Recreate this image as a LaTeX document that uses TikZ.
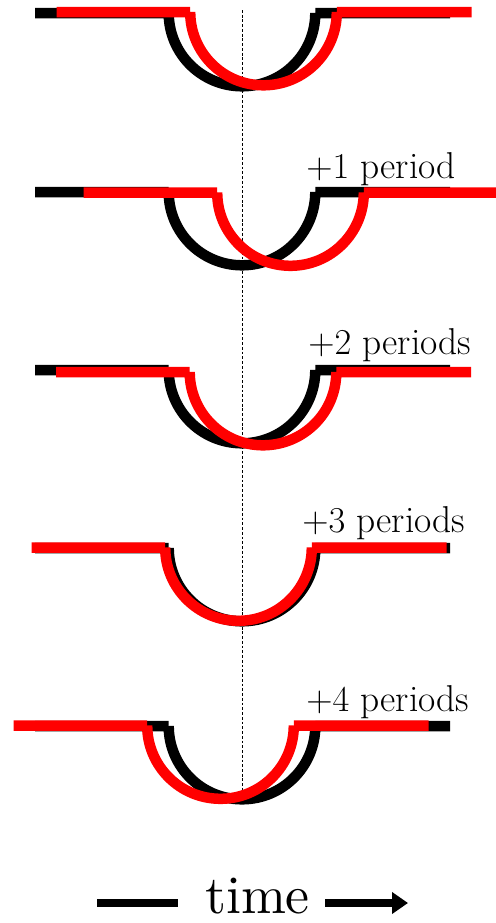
\documentclass[tikz,border=0pt]{standalone}
\usepackage{tikz}
\usetikzlibrary{arrows.meta}

\begin{document}
\begin{tikzpicture}[
  x=0.02cm, y=0.02cm,
  blk/.style={line width=0.21cm, black},
  rd/.style={line width=0.21cm, red},
  dsh/.style={line width=0.5pt, dash pattern=on 1.6pt off 1.1pt},
  lab/.style={font=\fontsize{21.3}{25}\selectfont, anchor=base west, inner sep=0pt},
  tm/.style={font=\normalsize, scale=3.07, anchor=base, inner sep=0pt},
  bar/.style={line width=0.16cm}
]
\useasboundingbox (0,0) rectangle (495,-923);
% reference signal
\draw[blk, shift={(0,-13)}]  (35,0) -- (168.7,0) (168.7,0) arc[start angle=180, end angle=360, radius=73.3] (315.3,0) -- (450,0);
\draw[blk, shift={(0,-192)}] (35,0) -- (168.7,0) (168.7,0) arc[start angle=180, end angle=360, radius=73.3] (315.3,0) -- (450,0);
\draw[blk, shift={(0,-370)}] (35,0) -- (168.7,0) (168.7,0) arc[start angle=180, end angle=360, radius=73.3] (315.3,0) -- (450,0);
\draw[blk, shift={(0,-548)}] (35,0) -- (168.7,0) (168.7,0) arc[start angle=180, end angle=360, radius=73.3] (315.3,0) -- (450,0);
\draw[blk, shift={(0,-726)}] (35,0) -- (168.7,0) (168.7,0) arc[start angle=180, end angle=360, radius=73.3] (315.3,0) -- (450,0);
% centre line
\coordinate (dtop) at (242,-10);
\coordinate (dbot) at (242,-795);
\draw[dsh] (dtop) -- (dbot);
% shifted signal
\draw[rd, shift={(21.5,-12)}]  (35,0) -- (168.7,0) (168.7,0) arc[start angle=180, end angle=360, radius=73.3] (315.3,0) -- (450,0);
\draw[rd, shift={(48.5,-192.5)}] (35,0) -- (168.7,0) (168.7,0) arc[start angle=180, end angle=360, radius=73.3] (315.3,0) -- (450,0);
\draw[rd, shift={(21,-372)}] (35,0) -- (168.7,0) (168.7,0) arc[start angle=180, end angle=360, radius=73.3] (315.3,0) -- (450,0);
\draw[rd, shift={(-3.5,-547.5)}] (35,0) -- (168.7,0) (168.7,0) arc[start angle=180, end angle=360, radius=73.3] (315.3,0) -- (450,0);
\draw[rd, shift={(-21.5,-725.5)}] (35,0) -- (168.7,0) (168.7,0) arc[start angle=180, end angle=360, radius=73.3] (315.3,0) -- (450,0);
% labels
\node[lab] (p1) at (306,-178) {$+1$ period};
\node[lab] (p2) at (308,-354) {$+2$ periods};
\node[lab] (p3) at (302,-532) {$+3$ periods};
\node[lab] (p4) at (306,-711) {$+4$ periods};
% time axis
\node[tm] (time) at (257.5,-913) {time};
\coordinate (tl0) at (97,-903);
\coordinate (tl1) at (178,-903);
\coordinate (tr0) at (325,-903);
\coordinate (tr1) at (408,-903);
\draw[bar] (tl0) -- (tl1);
\draw[bar, -{Triangle[length=0.32cm, width=0.42cm]}] (tr0) -- (tr1);
\end{tikzpicture}
\end{document}
